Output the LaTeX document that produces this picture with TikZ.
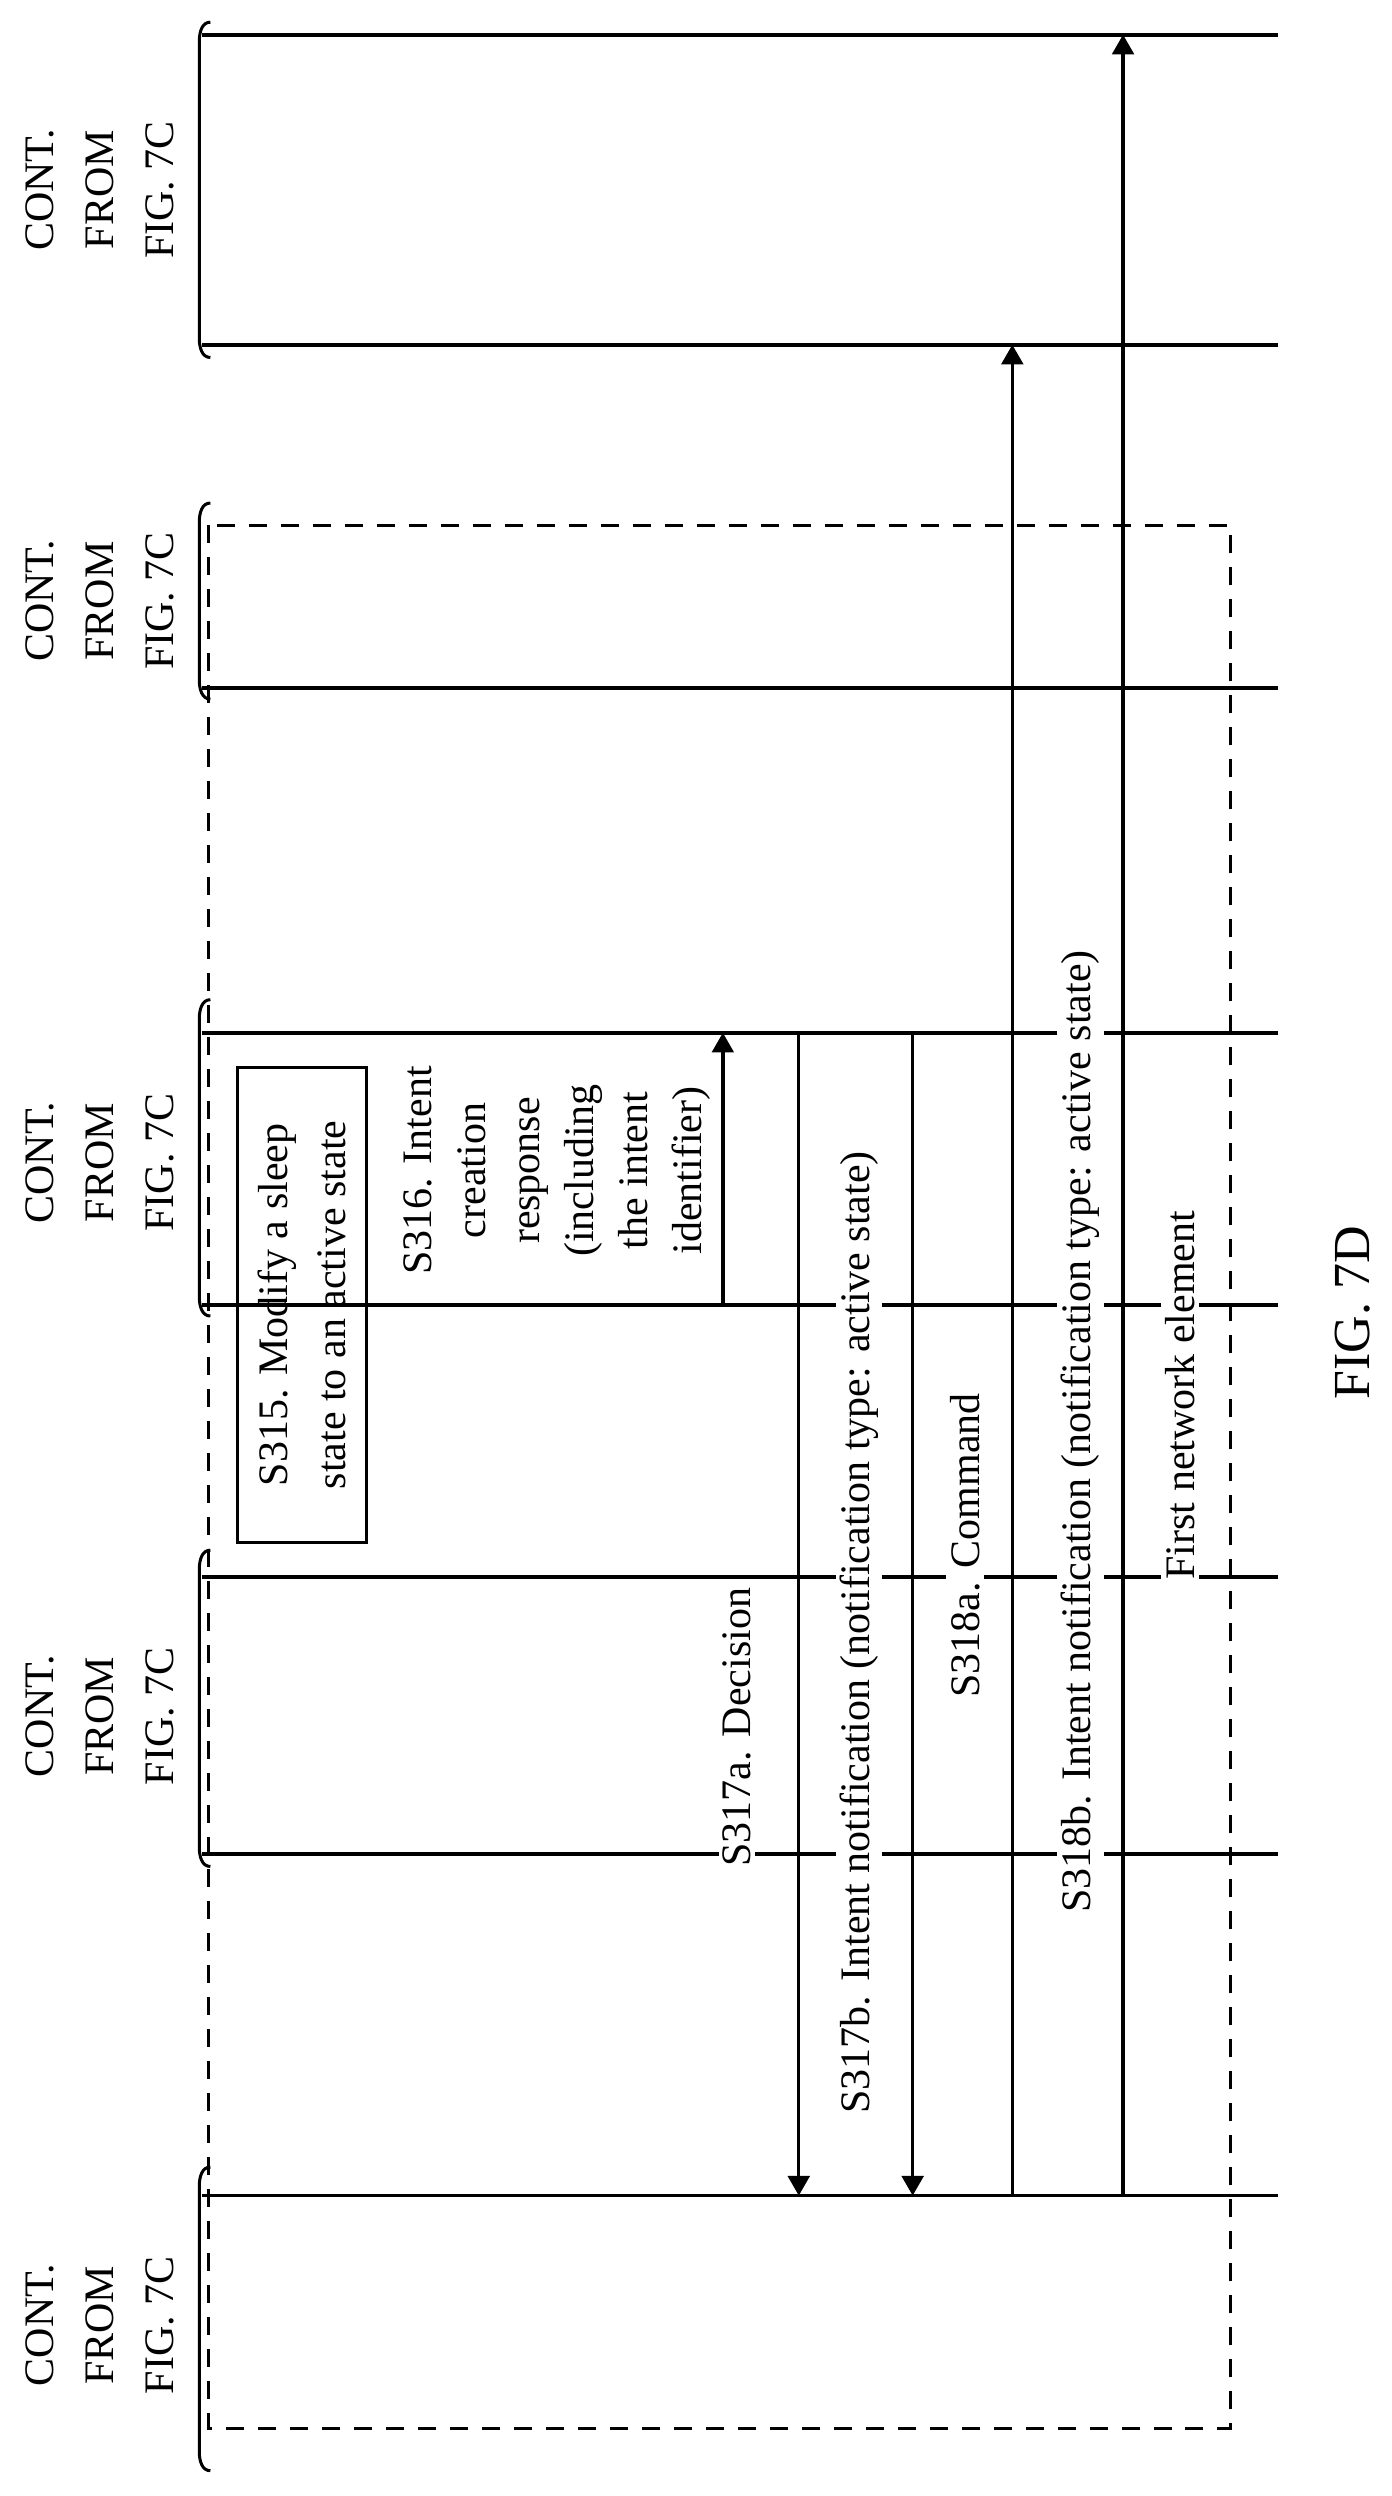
\documentclass[tikz,border=0pt]{standalone}
\usepackage{fontspec}
\setmainfont{Liberation Serif}
\usetikzlibrary{arrows, calc}

\tikzset{
	lifeline/.style={line width=1.7pt},
	msg/.style={line width=1.7pt, -triangle 60},
	lbl/.style={rotate=90, fill=white, inner sep=2pt, font=\fontsize{21}{29}\selectfont},
	contlbl/.style={rotate=90, align=center, font=\fontsize{21}{30}\selectfont},
}

\newcommand{\contbrace}[2]{%
	\draw [line width=1.5pt] (133,#1) to[out=180,in=90] (126,#1+12) -- (126,#2-12) to[out=-90,in=180] (133,#2);
}

\begin{document}
\begin{tikzpicture}[x=0.791pt, y=-0.791pt]
	\useasboundingbox (0,0) rectangle (880,1578);
	% lifelines
	\foreach \yy in {22, 218, 435, 653, 825, 997, 1172, 1388}
		\draw [lifeline] (128,\yy) -- (808,\yy);
	% continuation braces
	\contbrace{14}{226}
	\contbrace{318}{442}
	\contbrace{632}{832}
	\contbrace{980}{1180}
	\contbrace{1370}{1562}
	\node [contlbl] (c1) at (63,120) {CONT.\\FROM\\FIG. 7C};
	\node [contlbl] (c2) at (63,380) {CONT.\\FROM\\FIG. 7C};
	\node [contlbl] (c3) at (63,735) {CONT.\\FROM\\FIG. 7C};
	\node [contlbl] (c4) at (63,1085) {CONT.\\FROM\\FIG. 7C};
	\node [contlbl] (c5) at (63,1470) {CONT.\\FROM\\FIG. 7C};
	% first network element boundary
	\draw [line width=1.5pt, dash pattern=on 9pt off 7pt] (132,332) rectangle (778,1535);
	% S315
	\node [draw, line width=1.5pt, rotate=90, minimum width=300*0.791pt, minimum height=82*0.791pt, align=center, font=\fontsize{21}{29}\selectfont] (s315) at (191,825) {S315. Modify a sleep\\state to an active state};
	% S316
	\coordinate (s316a) at (457,825);
	\coordinate (s316b) at (457,653);
	\draw [msg] (s316a) -- (s316b);
	\node [rotate=90, align=center, font=\fontsize{21}{27}\selectfont] (l316) at (352,740) {S316. Intent\\creation\\response\\(including\\the intent\\identifier)};
	% S317a, S317b
	\coordinate (s317a) at (505,653);
	\coordinate (s317ae) at (505,1388);
	\draw [msg] (s317a) -- (s317ae);
	\coordinate (s317b) at (577,653);
	\coordinate (s317be) at (577,1388);
	\draw [msg] (s317b) -- (s317be);
	% S318a, S318b
	\coordinate (s318a) at (640,1388);
	\coordinate (s318ae) at (640,218);
	\draw [msg] (s318a) -- (s318ae);
	\coordinate (s318b) at (710,1388);
	\coordinate (s318be) at (710,22);
	\draw [msg] (s318b) -- (s318be);
	% labels
	\node [lbl] (l317a) at (466,1092) {S317a. Decision};
	\node [lbl] (l317b) at (543,1032) {S317b. Intent notification (notification type: active state)};
	\node [lbl] (l318a) at (610,977) {S318a. Command};
	\node [lbl] (l318b) at (683,905) {S318b. Intent notification (notification type: active state)};
	\node [lbl] (lfne) at (746,882) {First network element};
	\node [rotate=90, font=\fontsize{26}{30}\selectfont] (fig) at (855,830) {FIG. 7D};
\end{tikzpicture}
\end{document}
